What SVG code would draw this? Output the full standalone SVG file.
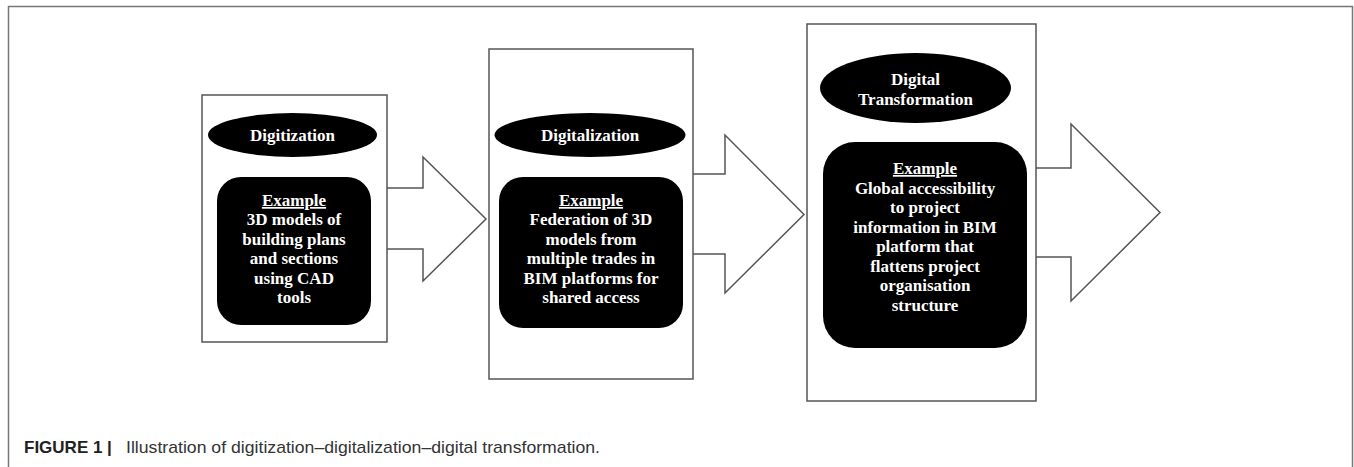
<svg xmlns="http://www.w3.org/2000/svg" width="1354" height="467" viewBox="0 0 1354 467">
<style>
.frame{fill:none;stroke:#777;stroke-width:1.5}
.box{fill:#fff;stroke:#555;stroke-width:1.5}
.arrow{fill:#fff;stroke:#555;stroke-width:1.5;stroke-linejoin:miter}
.blk{fill:#000}
.t{font-family:"Liberation Serif","Times New Roman",serif;font-weight:bold;font-size:17px;fill:#fff;text-anchor:middle}
.u{text-decoration:underline}
.capb{font-family:"Liberation Sans",Arial,sans-serif;font-weight:bold;font-size:17px;fill:#222}
.capn{font-family:"Liberation Sans",Arial,sans-serif;font-size:17px;fill:#333}
</style>
<rect width="1354" height="467" fill="#fff"/>
<path class="frame" d="M8.5,470 V6.5 H1352.5 V470"/>
<g id="connectors">
<path class="arrow" d="M387,188 H423 V157 L486,219 L423,281 V249 H387"/>
<path class="arrow" d="M693,174 H725 V135 L804,214.5 L725,293 V254 H693"/>
<path class="arrow" d="M1036,168 H1071 V124 L1160,212.5 L1071,301 V257 H1036"/>
</g>
<g id="digitization">
<rect class="box" x="202" y="95" width="185" height="247"/>
<ellipse class="blk" cx="292.5" cy="135" rx="84.5" ry="22"/>
<text class="t" x="292.5" y="141">Digitization</text>
<rect class="blk" x="217" y="177" width="154" height="148" rx="24"/>
<text class="t" x="294" y="206"><tspan class="u" x="294">Example</tspan><tspan x="294" dy="19.4">3D models of</tspan><tspan x="294" dy="19.4">building plans</tspan><tspan x="294" dy="19.4">and sections</tspan><tspan x="294" dy="19.4">using CAD</tspan><tspan x="294" dy="19.4">tools</tspan></text>
</g>
<g id="digitalization">
<rect class="box" x="489" y="49" width="204" height="330"/>
<ellipse class="blk" cx="590" cy="135" rx="95.5" ry="22"/>
<text class="t" x="590" y="141">Digitalization</text>
<rect class="blk" x="499" y="177" width="184" height="151" rx="24"/>
<text class="t" x="591" y="206"><tspan class="u" x="591">Example</tspan><tspan x="591" dy="19.4">Federation of 3D</tspan><tspan x="591" dy="19.4">models from</tspan><tspan x="591" dy="19.4">multiple trades in</tspan><tspan x="591" dy="19.4">BIM platforms for</tspan><tspan x="591" dy="19.4">shared access</tspan></text>
</g>
<g id="digital-transformation">
<rect class="box" x="807" y="24" width="229" height="377"/>
<ellipse class="blk" cx="915.5" cy="88" rx="95.5" ry="35"/>
<text class="t" x="915.5" y="85"><tspan x="915.5">Digital</tspan><tspan x="915.5" dy="19.5">Transformation</tspan></text>
<rect class="blk" x="823" y="142" width="204" height="206" rx="32"/>
<text class="t" x="925" y="174"><tspan class="u" x="925">Example</tspan><tspan x="925" dy="19.5">Global accessibility</tspan><tspan x="925" dy="19.5">to project</tspan><tspan x="925" dy="19.5">information in BIM</tspan><tspan x="925" dy="19.5">platform that</tspan><tspan x="925" dy="19.5">flattens project</tspan><tspan x="925" dy="19.5">organisation</tspan><tspan x="925" dy="19.5">structure</tspan></text>
</g>
<text class="capb" x="24" y="453">FIGURE 1 |</text>
<text class="capn" x="126" y="453" textLength="474" lengthAdjust="spacingAndGlyphs">Illustration of digitization–digitalization–digital transformation.</text>
</svg>
